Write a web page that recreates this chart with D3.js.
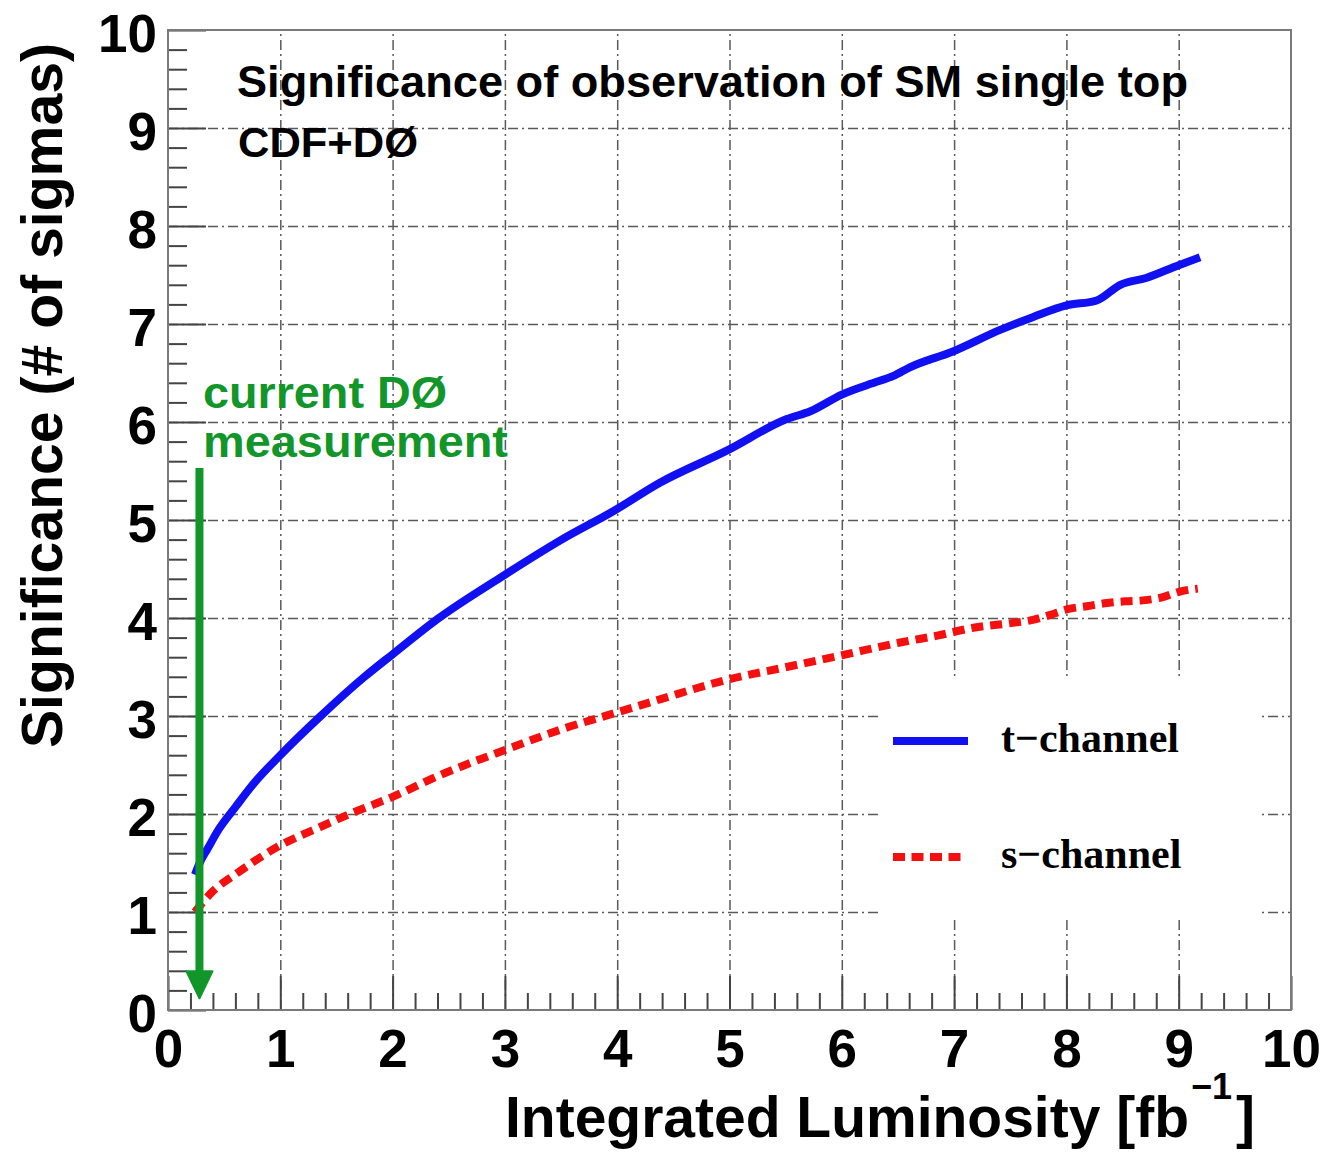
<!DOCTYPE html>
<html>
<head>
<meta charset="utf-8">
<script src="https://cdn.jsdelivr.net/npm/d3@7"></script>
<style>
  html, body { margin: 0; padding: 0; background: #fff; }
  svg { display: block; }
  text { font-family: "Liberation Sans", Arial, Helvetica, sans-serif; font-weight: bold; }
</style>
</head>
<body>
<svg id="chart" width="1334" height="1152"></svg>
<script>
// Expected significance vs integrated luminosity, CDF+DØ combination
const tChannelLumi = [0.24, 0.29, 0.35, 0.45, 0.60, 0.77, 1.00, 1.36, 1.75, 2.00, 2.40, 2.97, 3.49, 3.98, 4.38, 4.98, 5.51, 5.72, 6.00, 6.31, 6.46, 6.61, 6.99, 7.41, 7.70, 8.00, 8.27, 8.48, 8.71, 9.00, 9.19];
const tChannelSig  = [1.38, 1.52, 1.64, 1.84, 2.07, 2.32, 2.60, 3.00, 3.40, 3.63, 3.99, 4.42, 4.79, 5.10, 5.38, 5.71, 6.03, 6.11, 6.28, 6.41, 6.47, 6.56, 6.72, 6.94, 7.07, 7.19, 7.24, 7.40, 7.47, 7.60, 7.68];

const sChannelLumi = [0.24, 0.38, 0.62, 1.00, 1.36, 1.66, 1.99, 2.43, 2.97, 3.52, 3.98, 4.38, 4.98, 5.51, 6.00, 6.52, 6.85, 7.17, 7.52, 7.70, 7.85, 8.01, 8.18, 8.34, 8.52, 8.68, 8.85, 9.01, 9.17];
const sChannelSig  = [1.00, 1.19, 1.40, 1.68, 1.87, 2.02, 2.17, 2.40, 2.64, 2.87, 3.03, 3.17, 3.37, 3.50, 3.62, 3.75, 3.82, 3.90, 3.95, 3.98, 4.03, 4.09, 4.12, 4.15, 4.17, 4.18, 4.21, 4.27, 4.30];

const majorTicks = [0, 1, 2, 3, 4, 5, 6, 7, 8, 9, 10];
const minorTicks = d3.range(0, 50).map(i => i / 5).filter(v => v % 1 !== 0);

// current DØ measurement marker: luminosity and vertical extent in sigma
const measurementLumi = 0.28;
const measurementTop = 5.53;
const measurementTip = 0.12;

const svg = d3.select("#chart");
const x = d3.scaleLinear().domain([0, 10]).range([168, 1291]);
const y = d3.scaleLinear().domain([0, 10]).range([1010, 30]);
const plotW = x(10) - x(0), plotH = y(0) - y(10);

// grid
const gridX = svg.append("g").attr("transform", `translate(0,${y(0)})`)
  .call(d3.axisBottom(x).tickValues(majorTicks.slice(1, -1)).tickSize(-plotH).tickFormat(""));
const gridY = svg.append("g").attr("transform", `translate(${x(0)},0)`)
  .call(d3.axisLeft(y).tickValues(majorTicks.slice(1, -1)).tickSize(-plotW).tickFormat(""));
[gridX, gridY].forEach(g => {
  g.select(".domain").remove();
  g.selectAll("line").attr("stroke", "#5a5a5a").attr("stroke-width", 1.5).attr("stroke-dasharray", "10,4,2,4");
});

// legend background hides the grid behind it
const legend = svg.append("g");
legend.append("rect").attr("x", 882).attr("y", 680).attr("width", 378).attr("height", 236).attr("fill", "#fff");

// minor and major ticks, drawn inward
function tickAxis(axis, pos, horizontal) {
  const g = svg.append("g").attr("transform", horizontal ? `translate(0,${pos})` : `translate(${pos},0)`).call(axis);
  g.select(".domain").remove();
  g.selectAll("line").attr("stroke", "#444").attr("stroke-width", 2);
  return g;
}
tickAxis(d3.axisBottom(x).tickValues(minorTicks).tickSize(-17).tickFormat(""), y(0), true);
tickAxis(d3.axisLeft(y).tickValues(minorTicks).tickSize(-19).tickFormat(""), x(0), false);

const xAxis = tickAxis(d3.axisBottom(x).tickValues(majorTicks).tickSize(-34).tickPadding(0).tickFormat(d3.format("d")), y(0), true);
xAxis.selectAll("text").attr("y", 57).attr("dy", null)
  .attr("font-size", 53).attr("fill", "#000")
  .style("font-family", '"Liberation Sans", Arial, sans-serif').style("font-weight", "bold");

const yAxis = tickAxis(d3.axisLeft(y).tickValues(majorTicks).tickSize(-38).tickPadding(11).tickFormat(d3.format("d")), x(0), false);
yAxis.selectAll("text").attr("dy", null).attr("y", 21)
  .attr("font-size", 53).attr("fill", "#000")
  .style("font-family", '"Liberation Sans", Arial, sans-serif').style("font-weight", "bold");

// frame
svg.append("rect").attr("x", x(0)).attr("y", y(10)).attr("width", plotW).attr("height", plotH)
  .attr("fill", "none").attr("stroke", "#7a7a7a").attr("stroke-width", 2);

// curves
const line = d3.line().x(d => x(d[0])).y(d => y(d[1])).curve(d3.curveMonotoneX);
const tData = d3.zip(tChannelLumi, tChannelSig);
const sData = d3.zip(sChannelLumi, sChannelSig);
const blue = "#1010f2", red = "#f51010", green = "#12962a";

svg.append("path").datum(sData).attr("d", line).attr("fill", "none")
  .attr("stroke", red).attr("stroke-width", 8).attr("stroke-dasharray", "12,7");
svg.append("path").datum(tData).attr("d", line).attr("fill", "none")
  .attr("stroke", blue).attr("stroke-width", 8).attr("stroke-linejoin", "round");

// measurement arrow
const ax = x(measurementLumi), aTop = y(measurementTop), aTip = y(measurementTip);
svg.append("line").attr("x1", ax).attr("x2", ax).attr("y1", aTop).attr("y2", aTip - 22)
  .attr("stroke", green).attr("stroke-width", 8);
svg.append("path").attr("d", `M${ax - 13},${aTip - 27} L${ax + 13},${aTip - 27} L${ax},${aTip} Z`)
  .attr("fill", green).attr("stroke", green).attr("stroke-width", 2).attr("stroke-linejoin", "round");

svg.append("text").attr("x", 203).attr("y", 408).attr("font-size", 44).attr("fill", green)
  .attr("textLength", 244).attr("lengthAdjust", "spacingAndGlyphs").text("current DØ");
svg.append("text").attr("x", 203).attr("y", 457).attr("font-size", 44).attr("fill", green)
  .attr("textLength", 305).attr("lengthAdjust", "spacingAndGlyphs").text("measurement");

// titles
svg.append("text").attr("x", 237).attr("y", 97).attr("font-size", 44).attr("fill", "#000")
  .attr("textLength", 951).attr("lengthAdjust", "spacingAndGlyphs")
  .text("Significance of observation of SM single top");
svg.append("text").attr("x", 238).attr("y", 157).attr("font-size", 43).attr("fill", "#000")
  .attr("textLength", 180).attr("lengthAdjust", "spacingAndGlyphs").text("CDF+DØ");

const xTitle = svg.append("text").attr("x", 505).attr("y", 1137).attr("font-size", 57).attr("fill", "#000");
xTitle.append("tspan").text("Integrated Luminosity [fb");
xTitle.append("tspan").attr("font-size", 36).attr("dy", -38).attr("dx", 2).text("−1");
xTitle.append("tspan").attr("dy", 38).attr("dx", 4).text("]");

svg.append("text").attr("transform", "translate(62,748) rotate(-90)")
  .attr("font-size", 57).attr("fill", "#000")
  .attr("textLength", 705).attr("lengthAdjust", "spacingAndGlyphs")
  .text("Significance (# of sigmas)");

// legend entries
const legendItems = [
  { label: "t−channel", color: blue, dash: null, y: 741, len: 75 },
  { label: "s−channel", color: red, dash: "12,6.5", y: 857, len: 68 }
];
legendItems.forEach(d => {
  legend.append("line").attr("x1", 893).attr("x2", 893 + d.len).attr("y1", d.y).attr("y2", d.y)
    .attr("stroke", d.color).attr("stroke-width", 8).attr("stroke-dasharray", d.dash);
  legend.append("text").attr("x", 1001).attr("y", d.y + 11).attr("font-size", 42).attr("fill", "#000")
    .style("font-family", '"Liberation Serif", "Times New Roman", serif')
    .text(d.label);
});
</script>
</body>
</html>
